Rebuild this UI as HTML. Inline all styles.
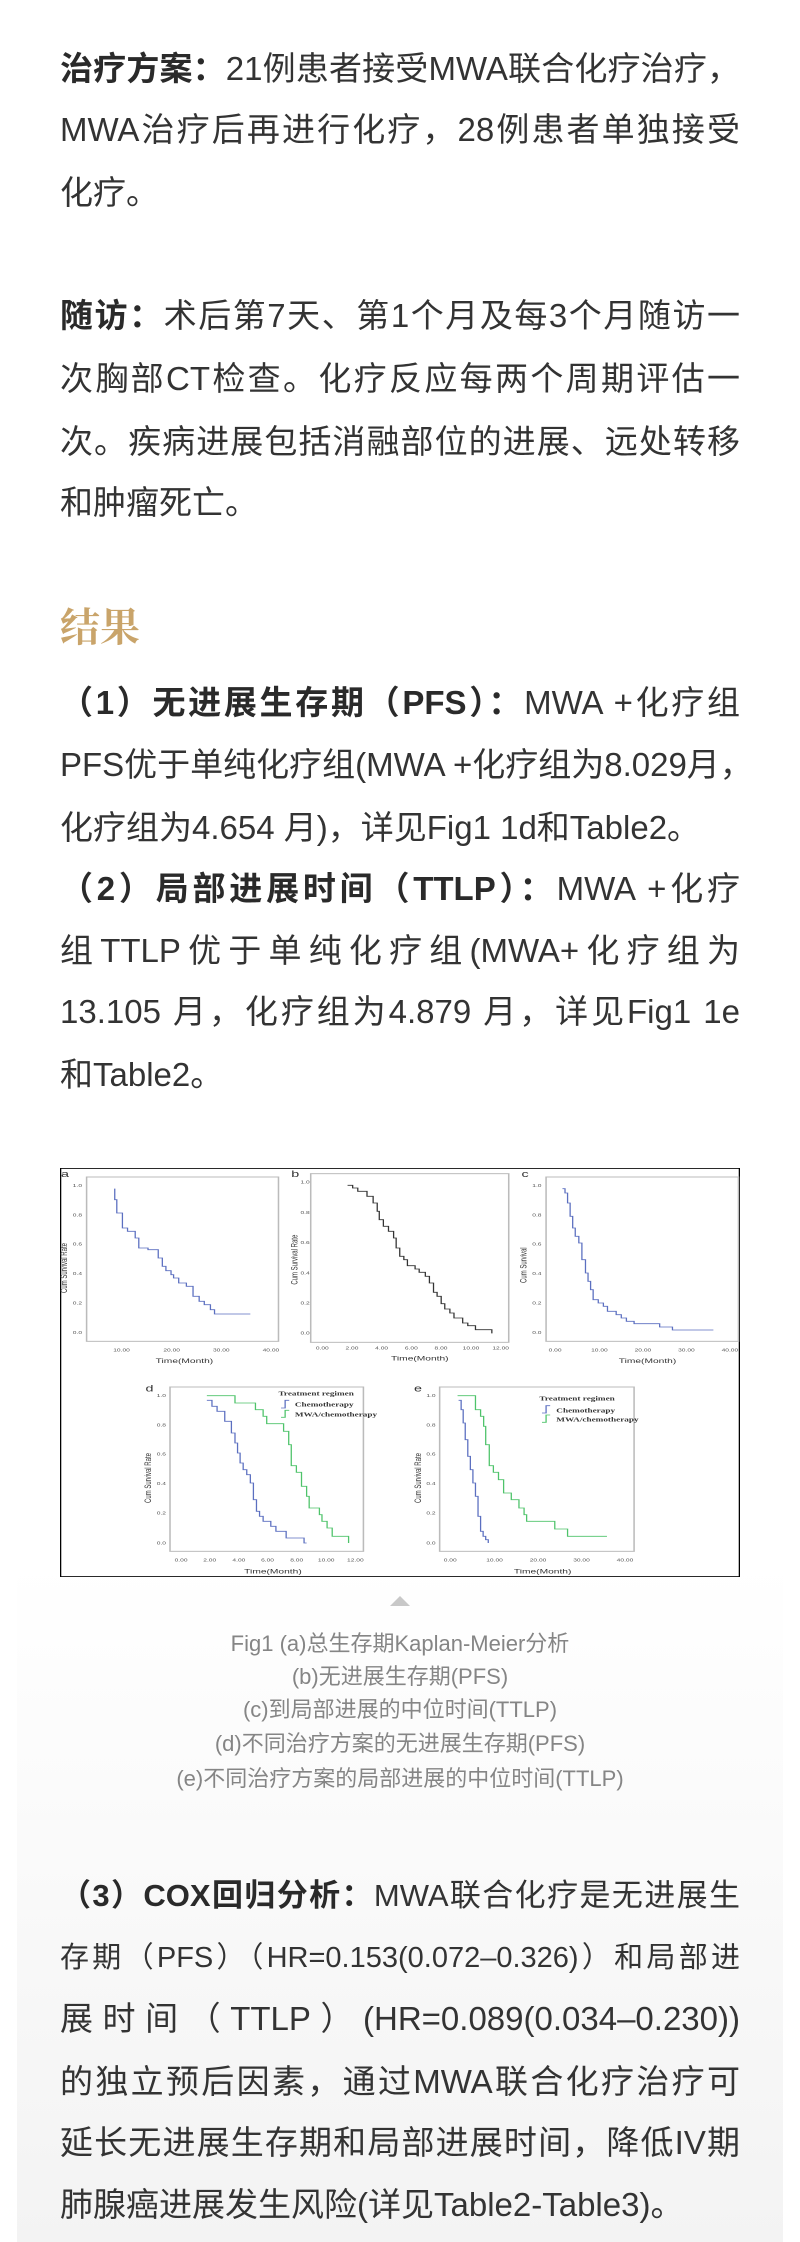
<!DOCTYPE html>
<html><head><meta charset="utf-8">
<style>
html,body{margin:0;padding:0;background:#fff;}
body{width:800px;height:2242px;position:relative;overflow:hidden;font-family:"Liberation Sans","Noto Sans CJK SC",sans-serif;color:#333;}
.l{position:absolute;left:60px;width:680px;height:62px;line-height:62px;font-size:33px;white-space:nowrap;}
.j{text-align:justify;text-align-last:justify;}
b{font-weight:700;color:#2a2a2a;}
.cap{position:absolute;left:0;width:800px;text-align:center;font-size:22px;color:#858585;line-height:30px;}
</style></head><body>
<div style="position:absolute;left:17px;top:1560px;width:766px;height:682px;background:linear-gradient(#fff,#f3f3f3);"></div>

<div class="l j" style="top:38px"><b>治疗方案：</b>21例患者接受MWA联合化疗治疗，</div>
<div class="l j" style="top:99px">MWA治疗后再进行化疗，28例患者单独接受</div>
<div class="l" style="top:162px">化疗。</div>

<div class="l j" style="top:285px"><b>随访：</b>术后第7天、第1个月及每3个月随访一</div>
<div class="l j" style="top:348px">次胸部CT检查。化疗反应每两个周期评估一</div>
<div class="l j" style="top:411px">次。疾病进展包括消融部位的进展、远处转移</div>
<div class="l" style="top:472px">和肿瘤死亡。</div>

<div style="position:absolute;left:60px;top:600px;font-size:40px;line-height:50px;color:#c9a46a;font-family:'Noto Serif CJK SC',serif;font-weight:700;">结果</div>

<div class="l j" style="top:672px"><b>（1）无进展生存期（PFS）：</b>MWA +化疗组</div>
<div class="l j" style="top:734px">PFS优于单纯化疗组(MWA +化疗组为8.029月，</div>
<div class="l" style="top:797px">化疗组为4.654 月)，详见Fig1 1d和Table2。</div>
<div class="l j" style="top:858px"><b>（2）局部进展时间（TTLP）：</b>MWA +化疗</div>
<div class="l j" style="top:920px">组TTLP优于单纯化疗组(MWA+化疗组为</div>
<div class="l j" style="top:981px">13.105 月，化疗组为4.879 月，详见Fig1 1e</div>
<div class="l" style="top:1044px">和Table2。</div>

<svg style="position:absolute;left:60px;top:1168px" width="680" height="409" viewBox="118 55 1329 1227" preserveAspectRatio="none">
<rect x="119" y="56" width="1327" height="1225" fill="#fff" stroke="#000" stroke-width="3"/>
<g fill="none" stroke="#bbb" stroke-width="3">
<rect x="170" y="82" width="375" height="493"/>
<rect x="608" y="72" width="387" height="506"/>
<rect x="1068" y="82" width="376" height="493"/>
<rect x="333" y="712" width="378" height="493"/>
<rect x="860" y="712" width="380" height="493"/>
</g>
<g font-family="Liberation Sans,sans-serif" fill="#333" font-size="20">
<text x="120" y="82" font-size="28">a</text><text x="570" y="82" font-size="28">b</text><text x="1020" y="82" font-size="28">c</text>
<text x="285" y="725" font-size="28">d</text><text x="810" y="725" font-size="28">e</text>
<text x="305" y="640">Time(Month)</text><text x="765" y="632">Time(Month)</text><text x="1210" y="640">Time(Month)</text>
<text x="478" y="1272">Time(Month)</text><text x="1005" y="1272">Time(Month)</text>
<g font-size="13" fill="#555">
<text x="143" y="112">1.0</text><text x="143" y="200">0.8</text><text x="143" y="288">0.6</text><text x="143" y="376">0.4</text><text x="143" y="464">0.2</text><text x="143" y="553">0.0</text>
<text x="222" y="605">10.00</text><text x="320" y="605">20.00</text><text x="417" y="605">30.00</text><text x="514" y="605">40.00</text>
<text x="588" y="102">1.0</text><text x="588" y="193">0.8</text><text x="588" y="283">0.6</text><text x="588" y="374">0.4</text><text x="588" y="464">0.2</text><text x="588" y="555">0.0</text>
<text x="618" y="600">0.00</text><text x="676" y="600">2.00</text><text x="734" y="600">4.00</text><text x="792" y="600">6.00</text><text x="850" y="600">8.00</text><text x="905" y="600">10.00</text><text x="963" y="600">12.00</text>
<text x="1041" y="112">1.0</text><text x="1041" y="200">0.8</text><text x="1041" y="288">0.6</text><text x="1041" y="376">0.4</text><text x="1041" y="464">0.2</text><text x="1041" y="553">0.0</text>
<text x="1073" y="605">0.00</text><text x="1156" y="605">10.00</text><text x="1241" y="605">20.00</text><text x="1326" y="605">30.00</text><text x="1411" y="605">40.00</text>
<text x="307" y="742">1.0</text><text x="307" y="830">0.8</text><text x="307" y="918">0.6</text><text x="307" y="1006">0.4</text><text x="307" y="1095">0.2</text><text x="307" y="1184">0.0</text>
<text x="342" y="1235">0.00</text><text x="398" y="1235">2.00</text><text x="455" y="1235">4.00</text><text x="511" y="1235">6.00</text><text x="568" y="1235">8.00</text><text x="622" y="1235">10.00</text><text x="679" y="1235">12.00</text>
<text x="834" y="742">1.0</text><text x="834" y="830">0.8</text><text x="834" y="918">0.6</text><text x="834" y="1006">0.4</text><text x="834" y="1095">0.2</text><text x="834" y="1184">0.0</text>
<text x="868" y="1235">0.00</text><text x="951" y="1235">10.00</text><text x="1036" y="1235">20.00</text><text x="1121" y="1235">30.00</text><text x="1206" y="1235">40.00</text>
</g>
<g font-size="18">
<text transform="translate(132,430) rotate(-90)">Cum Survival Rate</text>
<text transform="translate(582,405) rotate(-90)">Cum Survival Rate</text>
<text transform="translate(1030,400) rotate(-90)">Cum Survival</text>
<text transform="translate(296,1060) rotate(-90)">Cum Survival Rate</text>
<text transform="translate(824,1060) rotate(-90)">Cum Survival Rate</text>
</g>
<g font-family="Liberation Serif,serif" font-size="18" font-weight="700">
<text x="545" y="738">Treatment regimen</text><text x="577" y="770">Chemotherapy</text><text x="577" y="800">MWA/chemotherapy</text>
<text x="1055" y="752">Treatment regimen</text><text x="1088" y="788">Chemotherapy</text><text x="1088" y="816">MWA/chemotherapy</text>
</g>
</g>
<g fill="none" stroke-width="2.5">
<path stroke="#5b6fc0" d="M225,117 V150 H229 V190 H240 V235 H250 V245 H265 V265 H272 V295 H290 V300 H310 V325 H318 V350 H325 V363 H335 V375 H340 V385 H350 V400 H365 V410 H378 V440 H390 V455 H400 V465 H412 V480 H420 V493 H490"/>
<path stroke="#333" d="M680,107 H690 V115 H700 V125 H718 V140 H730 V160 H738 V185 H742 V210 H750 V230 H760 V245 H770 V265 H775 V295 H782 V320 H790 V330 H797 V348 H812 V358 H820 V368 H832 V380 H840 V400 H848 V428 H855 V440 H863 V462 H870 V478 H880 V490 H888 V505 H905 V520 H915 V528 H930 V540 H962 V551"/>
<path stroke="#5b6fc0" d="M1100,117 H1105 V130 H1110 V160 H1115 V200 H1120 V235 H1125 V260 H1132 V280 H1138 V330 H1145 V370 H1150 V395 H1155 V420 H1160 V450 H1170 V460 H1180 V470 H1188 V485 H1205 V495 H1215 V505 H1225 V515 H1240 V522 H1290 V532 H1315 V541 H1395"/>
<path stroke="#5b6fc0" d="M405,752 H415 V770 H425 V785 H440 V815 H453 V850 H460 V880 H465 V910 H470 V940 H476 V960 H483 V975 H490 V1000 H496 V1050 H502 V1085 H508 V1100 H515 V1115 H530 V1130 H540 V1145 H560 V1165 H595 V1180 H600"/>
<path stroke="#4ec36a" d="M405,738 H460 V760 H500 V780 H515 V800 H522 V822 H555 V845 H565 V885 H570 V948 H580 V968 H590 V1010 H600 V1040 H605 V1075 H625 V1095 H630 V1115 H640 V1135 H650 V1160 H682 V1180"/>
<path stroke="#5b6fc0" d="M897,752 H902 V780 H906 V820 H910 V870 H915 V920 H920 V960 H925 V1000 H930 V1040 H935 V1100 H940 V1145 H945 V1160 H950 V1170 H955 V1180"/>
<path stroke="#4ec36a" d="M895,738 H930 V780 H940 V800 H946 V830 H950 V885 H957 V948 H965 V968 H975 V990 H985 V1030 H1000 V1050 H1015 V1075 H1025 V1095 H1030 V1115 H1085 V1138 H1110 V1160 H1187"/>
<path stroke="#5b6fc0" d="M550,775 H558 V752 H566"/><path stroke="#4ec36a" d="M550,803 H558 V782 H566"/>
<path stroke="#5b6fc0" d="M1060,790 H1068 V768 H1076"/><path stroke="#4ec36a" d="M1060,818 H1068 V796 H1076"/>
</g>
</svg>

<div style="position:absolute;left:390px;top:1596px;width:0;height:0;border-left:10px solid transparent;border-right:10px solid transparent;border-bottom:10px solid #c8c8c8;"></div>
<div class="cap" style="top:1629px">Fig1 (a)总生存期Kaplan-Meier分析</div>
<div class="cap" style="top:1662px">(b)无进展生存期(PFS)</div>
<div class="cap" style="top:1695px">(c)到局部进展的中位时间(TTLP)</div>
<div class="cap" style="top:1729px">(d)不同治疗方案的无进展生存期(PFS)</div>
<div class="cap" style="top:1764px">(e)不同治疗方案的局部进展的中位时间(TTLP)</div>

<div class="l j" style="top:1865px;font-size:31px"><b>（3）COX回归分析：</b>MWA联合化疗是无进展生</div>
<div class="l j" style="top:1927px;font-size:29px">存期（PFS）（HR=0.153(0.072–0.326)）和局部进</div>
<div class="l j" style="top:1988px">展时间（TTLP）(HR=0.089(0.034–0.230))</div>
<div class="l j" style="top:2051px">的独立预后因素，通过MWA联合化疗治疗可</div>
<div class="l j" style="top:2112px">延长无进展生存期和局部进展时间，降低IV期</div>
<div class="l" style="top:2174px">肺腺癌进展发生风险(详见Table2-Table3)。</div>
</body></html>
